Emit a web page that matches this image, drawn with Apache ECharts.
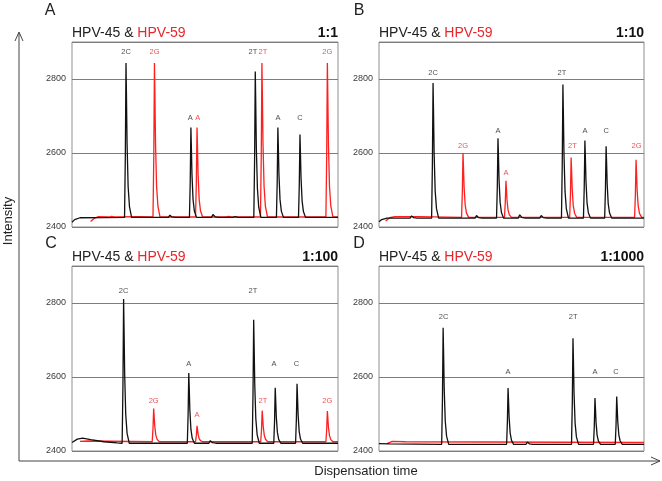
<!DOCTYPE html>
<html>
<head>
<meta charset="utf-8">
<script src="https://cdn.jsdelivr.net/npm/echarts@6/dist/echarts.min.js"></script>
<style>html,body{margin:0;padding:0;background:#fff}#c{width:662px;height:481px}</style>
</head>
<body>
<div id="c"></div>
<script>
// ---------- DATA ----------
const yTicks = [2400, 2600, 2800];
const panelLetters = ['A', 'B', 'C', 'D'];
const ratios = ['1:1', '1:10', '1:100', '1:1000'];

// Panel A (1:1)
const A_blackPos = [20.3, 44.7, 68.9, 77.4, 85.7];
const A_blackH   = [2843, 2669, 2820, 2669, 2650];
const A_redPos   = [31.0, 47.0, 71.4, 96.0];
const A_redH     = [2843, 2669, 2843, 2843];
const A_blackMinorPos = [36.8, 53.0, 61.0];
const A_blackMinorH   = [2432, 2434, 2430];
const A_redMinorPos = [14.5, 58.5];
const A_redMinorH   = [2431, 2430];
const A_blackBase = 2426, A_redBase = 2427;
const A_blackStart = [[0, 2413], [1, 2420], [3, 2425]];
const A_redStart = [[7, 2415], [8.5, 2424], [10, 2428], [25, 2428]];
const A_blackLab = [[20.3, 2873, '2C'], [44.5, 2695, 'A'], [68.0, 2873, '2T'], [77.4, 2695, 'A'], [85.7, 2695, 'C']];
const A_redLab   = [[31.0, 2873, '2G'], [47.3, 2695, 'A'], [71.8, 2873, '2T'], [96.0, 2873, '2G']];

// Panel B (1:10)
const B_blackPos = [20.4, 44.9, 69.4, 77.7, 85.7];
const B_blackH   = [2789, 2640, 2785, 2634, 2618];
const B_redPos   = [31.7, 47.9, 72.5, 97.0];
const B_redH     = [2600, 2525, 2588, 2582];
const B_blackMinorPos = [12.3, 36.8, 53.1, 61.2];
const B_blackMinorH   = [2430, 2431, 2433, 2431];
const B_redMinorPos = [];
const B_redMinorH   = [];
const B_blackBase = 2424, B_redBase = 2426;
const B_blackStart = [[0, 2414], [1, 2420], [3, 2424]];
const B_redStart = [[2.5, 2416], [4, 2425], [6, 2428], [15, 2428]];
const B_blackLab = [[20.4, 2816, '2C'], [44.9, 2659, 'A'], [69.0, 2816, '2T'], [77.7, 2659, 'A'], [85.7, 2659, 'C']];
const B_redLab   = [[31.7, 2618, '2G'], [47.9, 2547, 'A'], [73.0, 2618, '2T'], [97.2, 2618, '2G']];

// Panel C (1:100)
const C_blackPos = [19.4, 43.9, 68.3, 76.4, 84.6];
const C_blackH   = [2811, 2611, 2755, 2571, 2582];
const C_redPos   = [30.7, 47.0, 71.5, 96.0];
const C_redH     = [2515, 2468, 2509, 2508];
const C_blackMinorPos = [52.0];
const C_blackMinorH   = [2428];
const C_redMinorPos = [];
const C_redMinorH   = [];
const C_blackBase = 2421, C_redBase = 2425;
const C_blackStart = [[0, 2423], [2, 2432], [4, 2435], [7, 2431], [12, 2425], [17, 2422]];
const C_redStart = [[3, 2426], [6, 2427]];
const C_blackLab = [[19.4, 2832, '2C'], [43.9, 2635, 'A'], [68.0, 2832, '2T'], [75.9, 2635, 'A'], [84.4, 2635, 'C']];
const C_redLab   = [[30.7, 2535, '2G'], [47.0, 2498, 'A'], [71.8, 2535, '2T'], [96.0, 2535, '2G']];

// Panel D (1:1000)
const D_blackPos = [24.2, 48.7, 73.2, 81.5, 89.7];
const D_blackH   = [2733, 2570, 2705, 2543, 2547];
const D_redPos   = [];
const D_redH     = [];
const D_blackMinorPos = [56.0];
const D_blackMinorH   = [2424];
const D_redMinorPos = [];
const D_redMinorH   = [];
const D_blackBase = 2418, D_redBase = 2423;
const D_blackStart = [[0, 2420], [4, 2419]];
const D_redStart = [[3, 2420], [5, 2426], [10, 2425]];
const D_blackLab = [[24.4, 2762, '2C'], [48.7, 2615, 'A'], [73.3, 2762, '2T'], [81.5, 2615, 'A'], [89.4, 2615, 'C']];
const D_redLab   = [];

// ---------- build ----------
// normalised peak profile: [offset in x-units, fraction of peak height]
const PEAK_SHAPE = [[-0.55, 0], [-0.25, 0.4], [0, 1], [0.15, 0.82], [0.4, 0.48], [0.8, 0.2], [1.3, 0.07], [2.1, 0]];
function trace(start, base, pos, h, minorPos, minorH) {
  const pts = start.map(p => p.slice());
  const add = (p, v) => PEAK_SHAPE.forEach(([dx, f]) => pts.push([p + dx, base + f * (v - base)]));
  pos.forEach((p, i) => add(p, h[i]));
  minorPos.forEach((p, i) => add(p, minorH[i]));
  pts.push([100, base]);
  pts.sort((a, b) => a[0] - b[0]);
  return pts;
}

const panels = [
  {k: 'A', bs: A_blackStart, bb: A_blackBase, bp: A_blackPos, bh: A_blackH, bmp: A_blackMinorPos, bmh: A_blackMinorH,
   rs: A_redStart, rb: A_redBase, rp: A_redPos, rh: A_redH, rmp: A_redMinorPos, rmh: A_redMinorH, bl: A_blackLab, rl: A_redLab},
  {k: 'B', bs: B_blackStart, bb: B_blackBase, bp: B_blackPos, bh: B_blackH, bmp: B_blackMinorPos, bmh: B_blackMinorH,
   rs: B_redStart, rb: B_redBase, rp: B_redPos, rh: B_redH, rmp: B_redMinorPos, rmh: B_redMinorH, bl: B_blackLab, rl: B_redLab},
  {k: 'C', bs: C_blackStart, bb: C_blackBase, bp: C_blackPos, bh: C_blackH, bmp: C_blackMinorPos, bmh: C_blackMinorH,
   rs: C_redStart, rb: C_redBase, rp: C_redPos, rh: C_redH, rmp: C_redMinorPos, rmh: C_redMinorH, bl: C_blackLab, rl: C_redLab},
  {k: 'D', bs: D_blackStart, bb: D_blackBase, bp: D_blackPos, bh: D_blackH, bmp: D_blackMinorPos, bmh: D_blackMinorH,
   rs: D_redStart, rb: D_redBase, rp: D_redPos, rh: D_redH, rmp: D_redMinorPos, rmh: D_redMinorH, bl: D_blackLab, rl: D_redLab}
];

const FONT = '"Liberation Sans", Arial, Helvetica, sans-serif';
const RED_LINE = '#ff1f1f', RED_TEXT = '#e8262b', BLACK = '#111111';
const gridPos = [
  {left: 72, top: 42, width: 266, height: 185},
  {left: 379, top: 42, width: 265, height: 185},
  {left: 72, top: 266, width: 266, height: 185},
  {left: 379, top: 266, width: 265, height: 185}
];
const letterPos = [[50, 11], [359, 11], [51, 244], [359, 244]];

const grid = [], xAxis = [], yAxis = [], series = [], graphic = [];
panels.forEach((p, i) => {
  const g = gridPos[i];
  grid.push(Object.assign({show: true, borderColor: '#8f8f8f', borderWidth: 1, backgroundColor: '#fff', containLabel: false}, g));
  xAxis.push({type: 'value', gridIndex: i, min: 0, max: 100, show: false});
  yAxis.push({
    type: 'value', gridIndex: i, min: 2400, max: 2900, interval: 200,
    axisLine: {show: false}, axisTick: {show: false},
    axisLabel: {fontSize: 9, color: '#3a3a3a', fontFamily: FONT, margin: 6, showMaxLabel: false,
      formatter: v => yTicks.indexOf(v) >= 0 ? String(v) : ''},
    splitLine: {show: true, lineStyle: {color: '#7d7d7d', width: 1}}
  });
  series.push({
    type: 'line', xAxisIndex: i, yAxisIndex: i, showSymbol: false, symbol: 'none',
    data: trace(p.rs, p.rb, p.rp, p.rh, p.rmp, p.rmh), lineStyle: {color: RED_LINE, width: 1.3}, z: 2, silent: true
  });
  series.push({
    type: 'line', xAxisIndex: i, yAxisIndex: i, showSymbol: false, symbol: 'none',
    data: trace(p.bs, p.bb, p.bp, p.bh, p.bmp, p.bmh), lineStyle: {color: BLACK, width: 1.3}, z: 3, silent: true
  });
  [[p.bl, '#222'], [p.rl, RED_TEXT]].forEach(([labs, col]) => {
    series.push({
      type: 'scatter', xAxisIndex: i, yAxisIndex: i, symbolSize: 0, silent: true, z: 4,
      data: labs.map(l => ({value: [l[0], l[1]], name: l[2]})),
      label: {show: true, position: 'inside', formatter: q => q.name, color: col, fontSize: 7.5, fontFamily: FONT}
    });
  });
  // panel letter
  graphic.push({type: 'text', x: letterPos[i][0], y: letterPos[i][1], style: {text: panelLetters[i], font: '16px ' + FONT, fill: '#222', align: 'center', verticalAlign: 'middle'}});
  // panel subtitle
  graphic.push({type: 'text', x: g.left, y: g.top - 9, style: {
    text: '{k|HPV-45 & }{r|HPV-59}', verticalAlign: 'middle', align: 'left',
    rich: {k: {fill: '#222', fontSize: 14, fontFamily: FONT}, r: {fill: RED_TEXT, fontSize: 14, fontFamily: FONT}}
  }});
  graphic.push({type: 'text', x: g.left + g.width, y: g.top - 9, style: {text: ratios[i], font: 'bold 14px ' + FONT, fill: '#111', align: 'right', verticalAlign: 'middle'}});
});

// outer axes with arrows
const AX = '#444';
graphic.push({type: 'polyline', shape: {points: [[19, 461], [19, 33]]}, style: {stroke: AX, lineWidth: 1, fill: null}});
graphic.push({type: 'polyline', shape: {points: [[15, 41], [19, 32], [23, 41]]}, style: {stroke: AX, lineWidth: 1, fill: null}});
graphic.push({type: 'polyline', shape: {points: [[19, 461], [660, 461]]}, style: {stroke: AX, lineWidth: 1, fill: null}});
graphic.push({type: 'polyline', shape: {points: [[651, 457], [660, 461], [651, 465]]}, style: {stroke: AX, lineWidth: 1, fill: null}});
graphic.push({type: 'text', x: 8, y: 221, rotation: Math.PI / 2, style: {text: 'Intensity', font: '13px ' + FONT, fill: '#222', align: 'center', verticalAlign: 'middle'}});
graphic.push({type: 'text', x: 366, y: 471, style: {text: 'Dispensation time', font: '13px ' + FONT, fill: '#222', align: 'center', verticalAlign: 'middle'}});

const chart = echarts.init(document.getElementById('c'), null, {renderer: 'canvas'});
chart.setOption({animation: false, backgroundColor: '#fff', grid, xAxis, yAxis, series, graphic});
</script>
</body>
</html>
